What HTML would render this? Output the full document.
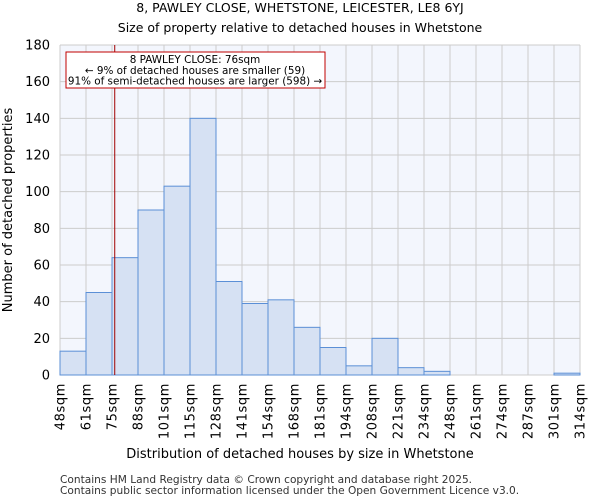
<!DOCTYPE html>
<html><head><meta charset="utf-8"><style>
body{margin:0;background:#fff;font-family:"DejaVu Sans","Liberation Sans",sans-serif;}
</style></head><body>
<svg width="600" height="500" xmlns="http://www.w3.org/2000/svg" font-family="DejaVu Sans, Liberation Sans, sans-serif">
<text x="300" y="12" text-anchor="middle" font-size="12.5">8, PAWLEY CLOSE, WHETSTONE, LEICESTER, LE8 6YJ</text>
<text x="300" y="32" text-anchor="middle" font-size="12.5">Size of property relative to detached houses in Whetstone</text>
<rect x="60" y="45" width="520" height="330" fill="#f3f6fd"/>
<g id="grid"></g>
<g id="bars"></g>
<g id="xt"></g>
<g id="yt"></g>
<line x1="115" y1="45" x2="115" y2="375" stroke="#a00000" stroke-width="1" id="marker"/>
<rect x="66" y="52" width="259" height="36" fill="#fff" stroke="#c00000" stroke-width="1"/>
<text x="195" y="63" text-anchor="middle" font-size="10.4">8 PAWLEY CLOSE: 76sqm</text>
<text x="195" y="74" text-anchor="middle" font-size="10.4">← 9% of detached houses are smaller (59)</text>
<text x="195" y="84.5" text-anchor="middle" font-size="10.4">91% of semi-detached houses are larger (598) →</text>
<text x="300" y="458" text-anchor="middle" font-size="13">Distribution of detached houses by size in Whetstone</text>
<text transform="translate(12,210) rotate(-90)" text-anchor="middle" font-size="13">Number of detached properties</text>
<text x="60" y="483" font-size="10.6" fill="#333">Contains HM Land Registry data © Crown copyright and database right 2025.</text>
<text x="60" y="494" font-size="10.6" fill="#333">Contains public sector information licensed under the Open Government Licence v3.0.</text>
</svg>
<script>
const categories=["48sqm","61sqm","75sqm","88sqm","101sqm","115sqm","128sqm","141sqm","154sqm","168sqm","181sqm","194sqm","208sqm","221sqm","234sqm","248sqm","261sqm","274sqm","287sqm","301sqm","314sqm"];
const counts=[13,45,64,90,103,140,51,39,41,26,15,5,20,4,2,0,0,0,0,1];
const yTicks=[0,20,40,60,80,100,120,140,160,180];
const propertySize=76, minSize=48, maxSize=314;
const X0=60,X1=580,Y0=375,Y1=45,YMAX=180;
const ns="http://www.w3.org/2000/svg";
const bw=(X1-X0)/counts.length;
const xs=i=>X0+i*bw;
const ys=v=>Y0-(v/YMAX)*(Y0-Y1);
function mk(t,a,p){const e=document.createElementNS(ns,t);for(const k in a)e.setAttribute(k,a[k]);document.getElementById(p).appendChild(e);return e;}
categories.forEach((c,i)=>{
 const g=mk("line",{x1:xs(i),x2:xs(i),y1:Y1,y2:Y0,stroke:"#cccccc","stroke-width":1},"grid");
 
 
 const t=mk("text",{transform:`translate(${xs(i)+4.5},383) rotate(-90)`,"text-anchor":"end","font-size":13,"letter-spacing":"0.6"},"xt");
 t.textContent=c;
 
 
});
yTicks.forEach(v=>{
 const g=mk("line",{x1:X0,x2:X1,y1:ys(v),y2:ys(v),stroke:"#cccccc","stroke-width":1},"grid");
 
 
 const t=mk("text",{x:X0-10,y:ys(v)+4.5,"text-anchor":"end","font-size":13},"yt");
 t.textContent=v;
 
 
});
counts.forEach((v,i)=>{
 if(v<=0)return;
 const r=mk("rect",{x:xs(i),y:ys(v),width:bw,height:Y0-ys(v),fill:"#d6e1f3",stroke:"#5b8fd6","stroke-width":1},"bars");
 
 
});
const mx=X0+(propertySize-minSize)/(maxSize-minSize)*(X1-X0);
const m=document.getElementById("marker");m.setAttribute("x1",mx);m.setAttribute("x2",mx);
</script>
</body></html>
